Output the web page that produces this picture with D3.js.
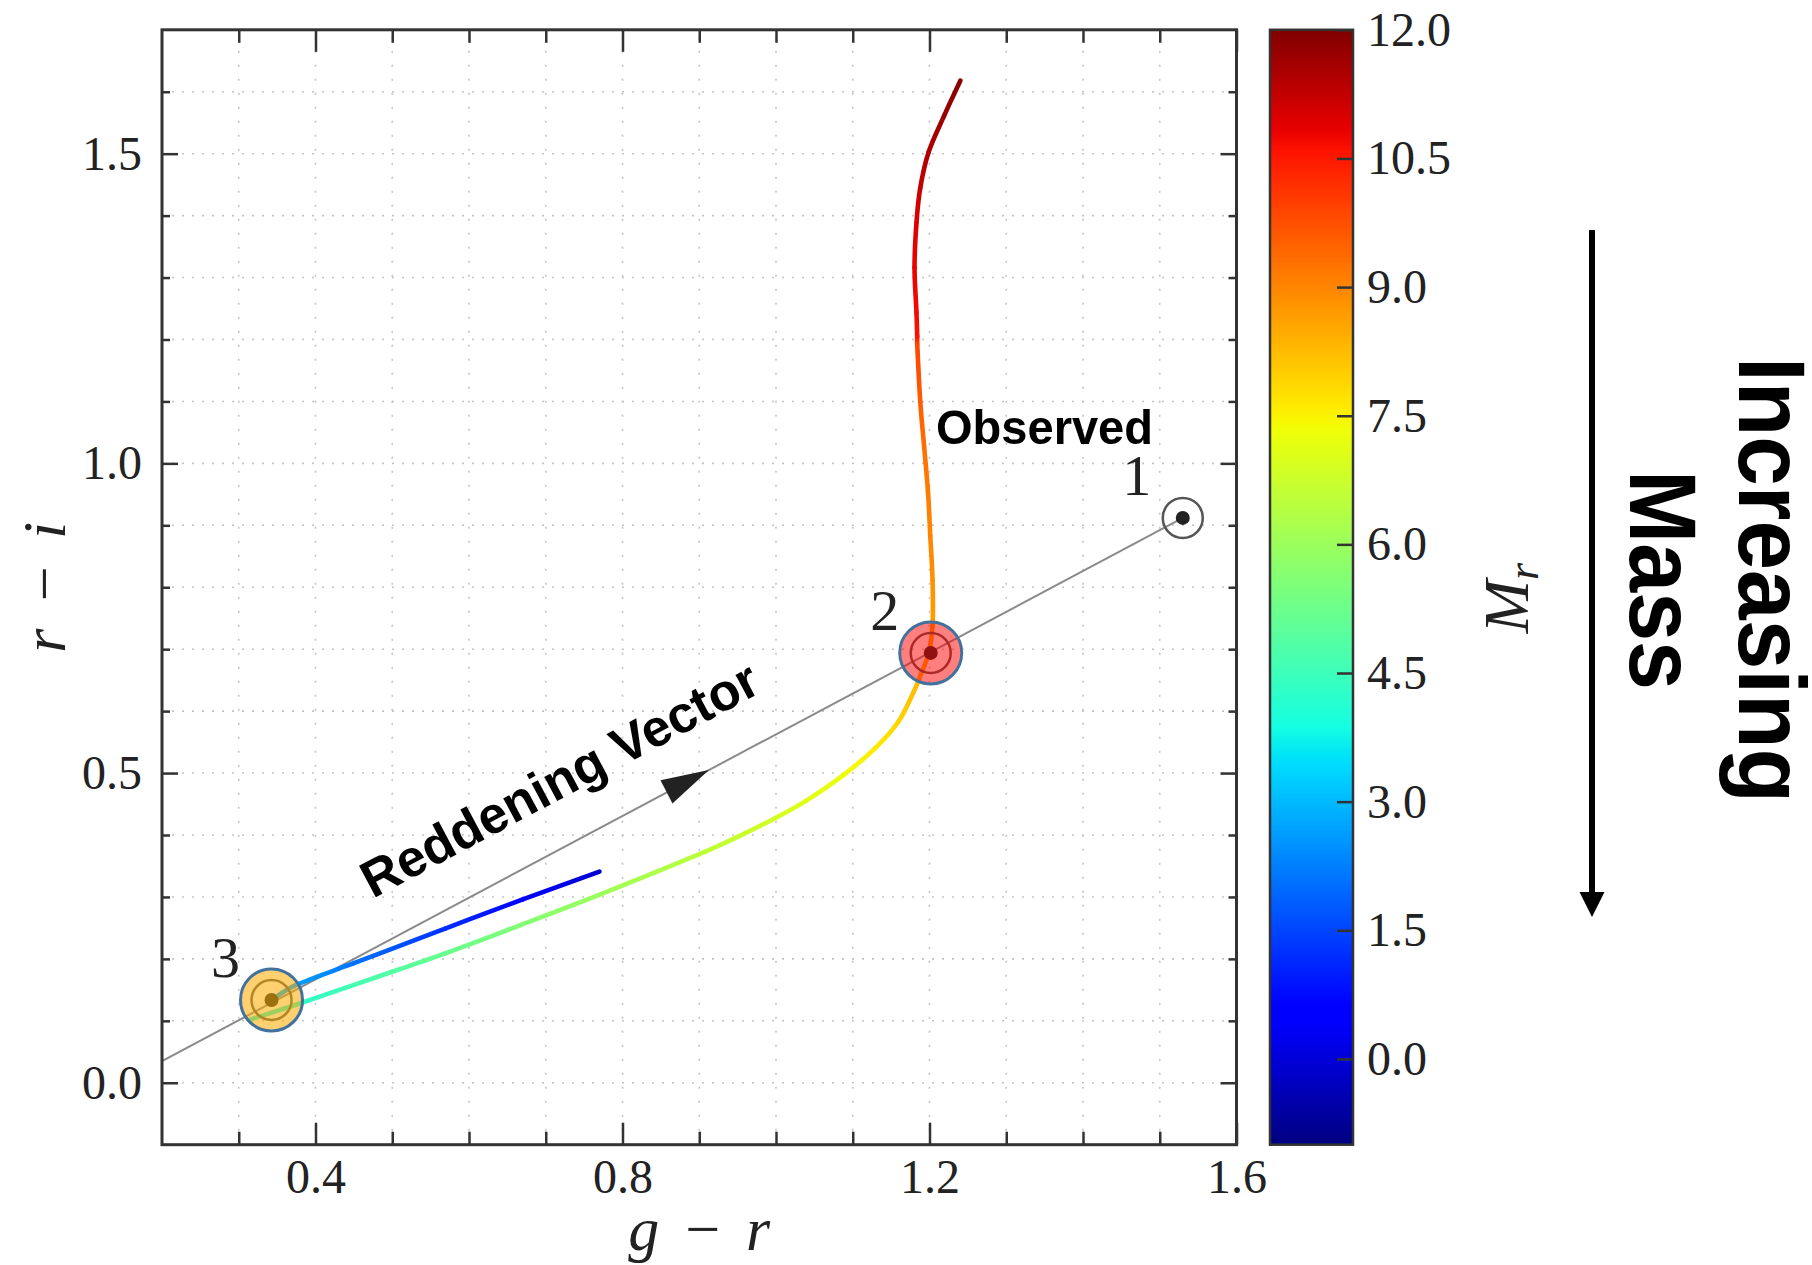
<!DOCTYPE html>
<html><head><meta charset="utf-8">
<script src="https://cdn.jsdelivr.net/npm/d3@7"></script>
<style>body{margin:0;background:#fff}</style>
</head><body><svg id="c" width="1812" height="1265" xmlns="http://www.w3.org/2000/svg"></svg>
<script>
// ---------- DATA ----------
// Observed colour track (g-r, r-i, M_r)
const obsGR = [0.315,0.384,0.483,0.569,0.668,0.767,0.900,0.950,1.000,1.040,1.089,1.129,1.159,1.179,1.189,1.199,1.204,1.204,1.201,1.198,1.193,1.188,1.184,1.184,1.183,1.1805,1.183,1.188,1.199,1.219,1.2403];
const obsRI = [0.102,0.130,0.172,0.209,0.255,0.302,0.369,0.397,0.428,0.456,0.498,0.540,0.582,0.630,0.660,0.694,0.739,0.811,0.883,0.955,1.027,1.099,1.193,1.205,1.244,1.316,1.388,1.445,1.503,1.561,1.618];
const obsMr = [4.0,4.3,4.8,5.2,5.6,6.0,6.5,6.7,6.9,7.1,7.3,7.6,7.9,8.2,8.35,8.5,8.65,8.85,9.0,9.15,9.3,9.55,9.9,10.6,10.7,10.8,10.95,11.2,11.5,11.7,11.9];
// Second (blue) track
const blueGR = [0.343,0.3715,0.450,0.569,0.670,0.770];
const blueRI = [0.134,0.156,0.193,0.249,0.296,0.341];
const blueMr = [2.9,2.7,2.1,1.2,0.6,-0.1];
// Numbered points
const ptGR = [1.530,1.2016,0.3427];
const ptRI = [0.912,0.694,0.1337];
const ptLabel = ["1","2","3"];
// Reddening vector line and its arrowhead
const rvGR = [0.2,1.53];
const rvRI = [0.035,0.912];
const arrowTip = [0.9126,0.505];
const arrowBase = [0.8573,0.4696];
// Ticks
const xMajor = [0.4,0.8,1.2,1.6];
const xMinor = [0.3,0.5,0.6,0.7,0.9,1.0,1.1,1.3,1.4,1.5];
const yMajor = [0.0,0.5,1.0,1.5];
const yMinor = [0.1,0.2,0.3,0.4,0.6,0.7,0.8,0.9,1.1,1.2,1.3,1.4,1.6];
const cbTicks = [0.0,1.5,3.0,4.5,6.0,7.5,9.0,10.5,12.0];
const cbDomain = [-1,12];

// ---------- SETUP ----------
const svg = d3.select("#c");
svg.append("rect").attr("width",1812).attr("height",1265).attr("fill","#fff");
const defs = svg.append("defs");
const L=162, R=1236.5, T=29.8, B=1144.7;
const x = d3.scaleLinear([0.2,1.6],[L,R]);
const y = d3.scaleLinear([-0.1,1.7],[B,T]);

// jet colormap
const jr = d3.scaleLinear([0,0.35,0.66,0.89,1],[0,0,1,1,0.5]).clamp(true);
const jg = d3.scaleLinear([0,0.125,0.375,0.64,0.91,1],[0,0,1,1,0,0]).clamp(true);
const jb = d3.scaleLinear([0,0.11,0.34,0.65,1],[0.5,1,1,0,0]).clamp(true);
const jet = t => d3.rgb(255*jr(t),255*jg(t),255*jb(t)).formatHex();
const tOf = d3.scaleLinear(cbDomain,[0,1]);
const color = v => jet(tOf(v));

// ---------- GRID ----------
const serif = "'Liberation Serif','DejaVu Serif',serif";
const sans = "'Liberation Sans',Arial,sans-serif";
const grid = svg.append("g").attr("stroke","#c4c4c4").attr("stroke-width",1.6);
xMajor.concat(xMinor).filter(v=>v<1.6).forEach(v=>{
  grid.append("line").attr("x1",x(v)).attr("x2",x(v)).attr("y1",B).attr("y2",T).attr("stroke-dasharray","2,12");
});
yMajor.concat(yMinor).forEach(v=>{
  grid.append("line").attr("y1",y(v)).attr("y2",y(v)).attr("x1",L).attr("x2",R).attr("stroke-dasharray","2,8");
});

// ---------- AXES ----------
function styleAxis(g){
  g.select(".domain").remove();
  g.selectAll(".tick line").attr("stroke","#333").attr("stroke-width",2.5);
  g.attr("font-family",serif).attr("font-size",48);
  g.selectAll("text").attr("fill","#222");
}
const fmt = d3.format(".1f");
svg.append("g").attr("transform",`translate(0,${B})`).call(d3.axisBottom(x).tickValues(xMajor).tickSize(-22).tickPadding(14).tickFormat(fmt)).call(styleAxis);
svg.append("g").attr("transform",`translate(0,${B})`).call(d3.axisBottom(x).tickValues(xMinor).tickSize(-13).tickFormat("")).call(styleAxis);
svg.append("g").attr("transform",`translate(0,${T})`).call(d3.axisTop(x).tickValues(xMajor).tickSize(-22).tickFormat("")).call(styleAxis);
svg.append("g").attr("transform",`translate(0,${T})`).call(d3.axisTop(x).tickValues(xMinor).tickSize(-13).tickFormat("")).call(styleAxis);
svg.append("g").attr("transform",`translate(${L},0)`).call(d3.axisLeft(y).tickValues(yMajor).tickSize(-16).tickPadding(20).tickFormat(fmt)).call(styleAxis);
svg.append("g").attr("transform",`translate(${L},0)`).call(d3.axisLeft(y).tickValues(yMinor).tickSize(-8).tickFormat("")).call(styleAxis);
svg.append("g").attr("transform",`translate(${R},0)`).call(d3.axisRight(y).tickValues(yMajor).tickSize(-16).tickFormat("")).call(styleAxis);
svg.append("g").attr("transform",`translate(${R},0)`).call(d3.axisRight(y).tickValues(yMinor).tickSize(-8).tickFormat("")).call(styleAxis);

// ---------- REDDENING LINE ----------
svg.append("line").attr("x1",x(rvGR[0])).attr("y1",y(rvRI[0])).attr("x2",x(rvGR[1])).attr("y2",y(rvRI[1]))
  .attr("stroke","#8a8a8a").attr("stroke-width",2);
{
  const tx=x(arrowTip[0]), ty=y(arrowTip[1]), bx=x(arrowBase[0]), by=y(arrowBase[1]);
  const dx=tx-bx, dy=ty-by, len=Math.hypot(dx,dy), px=-dy/len*13, py=dx/len*13;
  svg.append("path").attr("d",`M${tx},${ty}L${bx+px},${by+py}L${bx-px},${by-py}Z`).attr("fill","#222");
}

// ---------- COLOURED TRACKS ----------
let gid=0;
function unit(a,b){const dx=b[0]-a[0],dy=b[1]-a[1],l=Math.hypot(dx,dy)||1;return [dx/l,dy/l];}
function track(gx,gy,gm){
  const P = gx.map((v,i)=>[x(v),y(gy[i])]);
  const n=P.length, g=svg.append("g").attr("fill","none").attr("stroke-width",4.6).attr("stroke-linecap","round");
  for(let i=0;i<n-1;i++){
    const p0=P[Math.max(i-1,0)], p1=P[i], p2=P[i+1], p3=P[Math.min(i+2,n-1)];
    const seg=Math.hypot(p2[0]-p1[0],p2[1]-p1[1])/3;
    const t1=unit(p0,p2), t2=unit(p1,p3);
    const c1=[p1[0]+t1[0]*seg, p1[1]+t1[1]*seg];
    const c2=[p2[0]-t2[0]*seg, p2[1]-t2[1]*seg];
    const id="sg"+(gid++);
    const lg=defs.append("linearGradient").attr("id",id).attr("gradientUnits","userSpaceOnUse")
      .attr("x1",p1[0]).attr("y1",p1[1]).attr("x2",p2[0]+0.01).attr("y2",p2[1]+0.01);
    lg.append("stop").attr("offset",0).attr("stop-color",color(gm[i]));
    lg.append("stop").attr("offset",1).attr("stop-color",color(gm[i+1]));
    g.append("path").attr("d",`M${p1}C${c1} ${c2} ${p2}`).attr("stroke",`url(#${id})`);
  }
}
track(blueGR,blueRI,blueMr);
track(obsGR,obsRI,obsMr);

// ---------- POINTS ----------
ptGR.forEach((v,i)=>{
  const cx=x(v), cy=y(ptRI[i]);
  svg.append("circle").attr("cx",cx).attr("cy",cy).attr("r",20).attr("fill","none").attr("stroke","#555").attr("stroke-width",2.5);
  svg.append("circle").attr("cx",cx).attr("cy",cy).attr("r",7).attr("fill","#222");
  svg.append("text").attr("x",cx-46).attr("y",cy-23).attr("text-anchor","middle")
    .attr("font-family",serif).attr("font-size",58).attr("fill","#222").text(ptLabel[i]);
});
const overlay = [null,{c:"rgb(255,0,0)",o:0.5},{c:"rgb(255,171,0)",o:0.56}];
ptGR.forEach((v,i)=>{
  if(!overlay[i]) return;
  svg.append("circle").attr("cx",x(v)).attr("cy",y(ptRI[i])).attr("r",31)
    .attr("fill",overlay[i].c).attr("fill-opacity",overlay[i].o)
    .attr("stroke","#41719c").attr("stroke-width",3);
});

// ---------- FRAME ----------
svg.append("rect").attr("x",L).attr("y",T).attr("width",R-L).attr("height",B-T)
  .attr("fill","none").attr("stroke","#333").attr("stroke-width",3);

// ---------- AXIS LABELS ----------
const xl = svg.append("text").attr("x",(L+R)/2).attr("y",1250).attr("text-anchor","middle")
  .attr("font-family",serif).attr("font-size",62).attr("fill","#222")
  .attr("textLength",142).attr("lengthAdjust","spacing");
xl.append("tspan").attr("font-style","italic").text("g");
xl.append("tspan").text(" \u2212 ");
xl.append("tspan").attr("font-style","italic").text("r");
const yl = svg.append("text").attr("transform",`translate(65,${(T+B)/2}) rotate(-90)`).attr("text-anchor","middle")
  .attr("font-family",serif).attr("font-size",62).attr("fill","#222")
  .attr("textLength",131).attr("lengthAdjust","spacing");
yl.append("tspan").attr("font-style","italic").text("r");
yl.append("tspan").text(" \u2212 ");
yl.append("tspan").attr("font-style","italic").text("i");

// ---------- ANNOTATIONS ----------
svg.append("text").attr("x",x(1.2085)).attr("y",y(1.031))
  .attr("font-family",sans).attr("font-weight","bold").attr("font-size",49).attr("fill","#000")
  .attr("textLength",217).attr("lengthAdjust","spacingAndGlyphs").text("Observed");
{
  const ang = Math.atan2(y(rvRI[1])-y(rvRI[0]), x(rvGR[1])-x(rvGR[0]))*180/Math.PI;
  svg.append("text").attr("transform",`translate(${x(0.4747)},${y(0.2967)}) rotate(${ang})`)
    .attr("font-family",sans).attr("font-weight","bold").attr("font-size",52).attr("fill","#000")
    .attr("textLength",442).attr("lengthAdjust","spacingAndGlyphs").text("Reddening Vector");
}

// ---------- COLORBAR ----------
const cbL=1270, cbW=83;
const cy = d3.scaleLinear(cbDomain,[B,T]);
const grad = defs.append("linearGradient").attr("id","jetGrad").attr("x1",0).attr("y1",1).attr("x2",0).attr("y2",0);
[0,0.11,0.125,0.34,0.35,0.375,0.64,0.65,0.66,0.89,0.91,1].forEach(t=>{
  grad.append("stop").attr("offset",t).attr("stop-color",jet(t));
});
svg.append("rect").attr("x",cbL).attr("y",T).attr("width",cbW).attr("height",B-T).attr("fill","url(#jetGrad)");
svg.append("g").attr("transform",`translate(${cbL+cbW},0)`)
  .call(d3.axisRight(cy).tickValues(cbTicks).tickSize(-16).tickPadding(14).tickFormat(fmt)).call(styleAxis);
svg.append("rect").attr("x",cbL).attr("y",T).attr("width",cbW).attr("height",B-T)
  .attr("fill","none").attr("stroke","#333").attr("stroke-width",2.5);
const ml = svg.append("text").attr("transform",`translate(1528,598) rotate(-90)`).attr("text-anchor","middle")
  .attr("font-family",serif).attr("font-size",64).attr("fill","#222");
ml.append("tspan").attr("font-style","italic").text("M");
ml.append("tspan").attr("font-style","italic").attr("font-size",44).attr("dy",10).text("r");

// ---------- INCREASING MASS ----------
svg.append("line").attr("x1",1592).attr("x2",1592).attr("y1",230).attr("y2",896).attr("stroke","#000").attr("stroke-width",6);
svg.append("path").attr("d","M1592,917L1579.5,892L1604.5,892Z").attr("fill","#000");
svg.append("text").attr("transform","translate(1739,580) rotate(90)").attr("text-anchor","middle")
  .attr("font-family",sans).attr("font-weight","bold").attr("font-size",94).attr("fill","#000")
  .attr("textLength",446).attr("lengthAdjust","spacingAndGlyphs").text("Increasing");
svg.append("text").attr("transform","translate(1630,580) rotate(90)").attr("text-anchor","middle")
  .attr("font-family",sans).attr("font-weight","bold").attr("font-size",94).attr("fill","#000")
  .attr("textLength",220).attr("lengthAdjust","spacingAndGlyphs").text("Mass");
</script></body></html>
